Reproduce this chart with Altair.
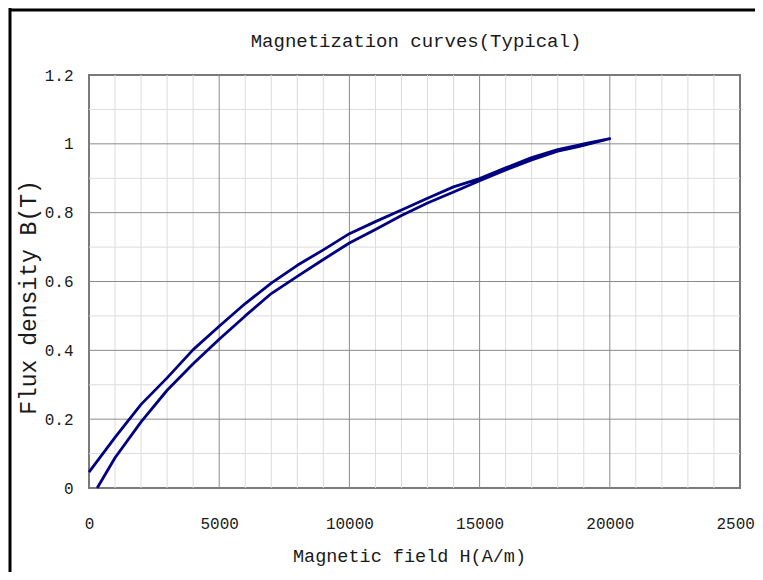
import altair as alt
import pandas as pd

# Ascending (lower) branch of the loop
H_asc = [315, 1000, 2000, 3000, 4000, 5000, 6000, 7000, 8000, 9000, 10000,
         11000, 12000, 13000, 14000, 15000, 16000, 17000, 18000, 18800, 20000]
B_asc = [0.0, 0.088, 0.192, 0.284, 0.361, 0.432, 0.500, 0.565, 0.615, 0.664, 0.712,
         0.751, 0.792, 0.828, 0.860, 0.893, 0.924, 0.953, 0.979, 0.992, 1.015]
# Descending (upper) branch of the loop
H_desc = [20000, 19000, 18800, 18000, 17000, 16000, 15000, 14000, 13000, 12000,
          11000, 10000, 9000, 8000, 7000, 6000, 5000, 4000, 3000, 2000, 1000, 0]
B_desc = [1.015, 1.000, 0.996, 0.983, 0.960, 0.930, 0.899, 0.875, 0.842, 0.808,
          0.774, 0.739, 0.692, 0.647, 0.595, 0.536, 0.470, 0.402, 0.320, 0.243, 0.147, 0.046]

x_major = [0, 5000, 10000, 15000, 20000, 25000]
x_minor = [1000, 2000, 3000, 4000, 6000, 7000, 8000, 9000, 11000, 12000, 13000, 14000,
           16000, 17000, 18000, 19000, 21000, 22000, 23000, 24000]
y_major = [0, 0.2, 0.4, 0.6, 0.8, 1.0, 1.2]
y_minor = [0.1, 0.3, 0.5, 0.7, 0.9, 1.1]

title_text = ["Magnetization curves(Typical)"]
x_title = "Magnetic field H(A/m)"
y_title = "Flux density B(T)"

FONT = "Liberation Mono"
TXT = "#1a1a1a"

curve = pd.DataFrame({
    "H": H_asc + H_desc,
    "B": B_asc + B_desc,
    "step": list(range(len(H_asc) + len(H_desc))),
})

xs = alt.Scale(domain=[0, 25000], nice=False, zero=False)
ys = alt.Scale(domain=[0, 1.2], nice=False, zero=False)

x_axis = alt.Axis(
    values=x_major, format="d", grid=False, ticks=False, tickSize=0, domain=False,
    labelFont=FONT, labelFontSize=16, labelColor=TXT, labelPadding=27,
    labelFlush=False, labelOverlap=False,
    title=x_title, titleFont=FONT, titleFontSize=18.5, titleFontWeight="normal",
    titleColor=TXT, titleX=320, titleY=67, titleBaseline="middle", titleAlign="center")
y_axis = alt.Axis(
    values=y_major,
    labelExpr="datum.value == 0 ? '0' : datum.value == 1 ? '1' : format(datum.value, '.1f')",
    grid=False, ticks=False, tickSize=0, domain=False,
    labelFont=FONT, labelFontSize=16, labelColor=TXT, labelPadding=16,
    labelFlush=False, labelOverlap=False,
    title=y_title, titleFont=FONT, titleFontSize=23, titleFontWeight="normal",
    titleColor=TXT, titleX=-61, titleY=222, titleBaseline="middle", titleAlign="center")


def vrules(vals, color, w):
    return alt.Chart(pd.DataFrame({"v": vals})).mark_rule(color=color, strokeWidth=w).encode(
        x=alt.X("v:Q", scale=xs, axis=x_axis))


def hrules(vals, color, w):
    return alt.Chart(pd.DataFrame({"v": vals})).mark_rule(color=color, strokeWidth=w).encode(
        y=alt.Y("v:Q", scale=ys, axis=y_axis))


minor = vrules(x_minor, "#dcdcdc", 1) + hrules(y_minor, "#dcdcdc", 1)
major = vrules(x_major[1:-1], "#8a8a8a", 1) + hrules(y_major[1:-1], "#8a8a8a", 1)

lines = alt.Chart(curve).mark_line(color="#000080", strokeWidth=2.8, strokeJoin="round").encode(
    x=alt.X("H:Q", scale=xs, axis=x_axis),
    y=alt.Y("B:Q", scale=ys, axis=y_axis),
    order="step:Q",
)

title_mark = alt.Chart(pd.DataFrame({"t": title_text})).mark_text(
    font=FONT, fontSize=19, color=TXT, align="center", baseline="middle").encode(
    text="t:N", x=alt.value(327), y=alt.value(-34))

border_left = alt.Chart(pd.DataFrame({"k": [0]})).mark_rule(color="#000000", strokeWidth=3).encode(
    x=alt.value(-79), y=alt.value(-67), y2=alt.value(497))
border_top = alt.Chart(pd.DataFrame({"k": [0]})).mark_rule(color="#000000", strokeWidth=3).encode(
    x=alt.value(-80), x2=alt.value(670), y=alt.value(-65))

chart = alt.layer(minor, major, lines, title_mark, border_left, border_top).properties(
    width=651, height=413,
    autosize=alt.AutoSizeParams(type="none"),
    padding={"left": 81, "top": 67, "right": 15, "bottom": 84},
    background="white",
).configure_view(stroke="#7a7a7a", strokeWidth=2)

chart.save("out.html", embed_options={"renderer": "svg", "actions": False})
